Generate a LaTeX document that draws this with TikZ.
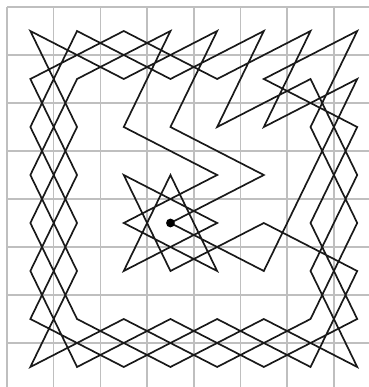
\documentclass[tikz,border=0pt]{standalone}
\usepackage{xcolor}
\usepackage{tikz}

\begin{document}
\begin{tikzpicture}[x=1.1675cm, y=1.2cm,
    board/.style={draw=black!25, line width=1.1pt},
    tour/.style={draw=black!90, line width=1.2pt, line join=miter},
    startdot/.style={circle, fill=black, inner sep=0pt, minimum size=2.2mm}]

    % Frame
    \useasboundingbox (-0.15,0.146) rectangle (7.752,-7.917);

    % Board
    \foreach \i in {0,...,7} {
        \draw[board] (\i,0) -- (\i,-7.917);
        \draw[board] (0,-\i) -- (7.752,-\i);
    }

    % Squares
    \foreach \c in {0,...,7} {
        \foreach \r in {0,...,7} {
            \coordinate (sq\c\r) at (\c+0.5,-\r-0.5);
        }
    }

    % Tour
    \draw[tour] (sq34) -- (sq53) -- (sq32) -- (sq40) -- (sq21) -- (sq00) -- (sq12) -- (sq04)
        -- (sq16) -- (sq37) -- (sq56) -- (sq77) -- (sq65) -- (sq73) -- (sq61) -- (sq42)
        -- (sq50) -- (sq31) -- (sq10) -- (sq02) -- (sq14) -- (sq06) -- (sq27) -- (sq46)
        -- (sq67) -- (sq75) -- (sq54) -- (sq35) -- (sq23) -- (sq44) -- (sq25) -- (sq33)
        -- (sq45) -- (sq24) -- (sq43) -- (sq22) -- (sq30) -- (sq11) -- (sq03) -- (sq15)
        -- (sq07) -- (sq26) -- (sq47) -- (sq66) -- (sq74) -- (sq62) -- (sq70) -- (sq51)
        -- (sq72) -- (sq64) -- (sq76) -- (sq57) -- (sq36) -- (sq17) -- (sq05) -- (sq13)
        -- (sq01) -- (sq20) -- (sq41) -- (sq60) -- (sq52) -- (sq71) -- (sq63) -- (sq55)
        -- cycle;

    % Start
    \node (start) [startdot] at (sq34) {};
\end{tikzpicture}
\end{document}
